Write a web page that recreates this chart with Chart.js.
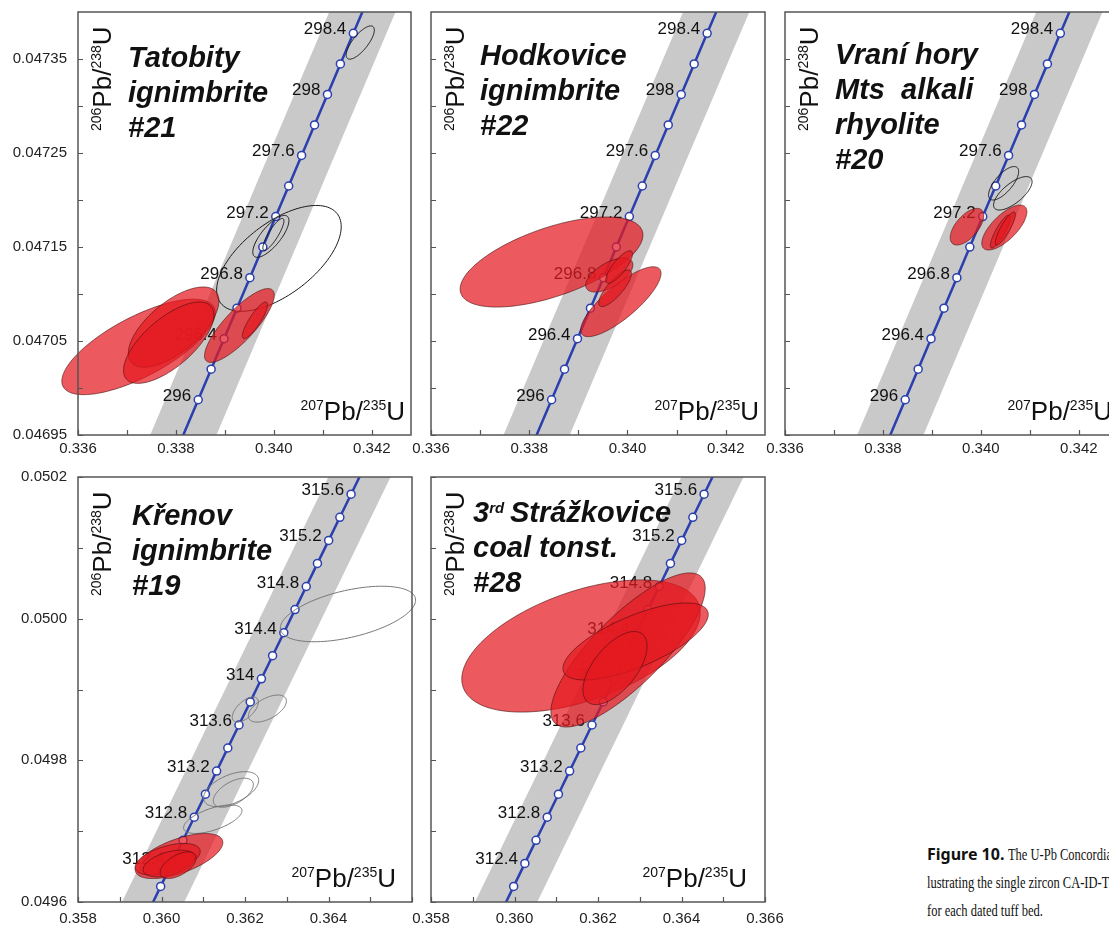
<!DOCTYPE html>
<html>
<head>
<meta charset="utf-8">
<script src="https://cdn.jsdelivr.net/npm/chart.js@4.4.1/dist/chart.umd.min.js"></script>
<style>
  html, body { margin: 0; padding: 0; background: #fff; }
  body { width: 1109px; height: 932px; overflow: hidden; position: relative; }
  canvas { position: absolute; }
  #caption { position: absolute; left: 927px; top: 840px; width: 182px; overflow: hidden; white-space: nowrap; line-height: 28px; color: #111; }
  #caption b { font-family: "Noto Sans", sans-serif; font-size: 16px; }
  #caption .serif { display: inline-block; font-family: "Liberation Serif", serif; font-size: 16px; transform: scaleX(0.78); transform-origin: left center; }
</style>
</head>
<body>
<canvas id="p1"></canvas>
<canvas id="p2"></canvas>
<canvas id="p3"></canvas>
<canvas id="p4"></canvas>
<canvas id="p5"></canvas>
<div id="caption">
  <div><b>Figure 10.</b> <span class="serif">The U-Pb Concordia diagrams il-</span></div>
  <div><span class="serif">lustrating the single zircon CA-ID-TIMS</span></div>
  <div><span class="serif">for each dated tuff bed.</span></div>
</div>
<script>
// concordia, upper row (ages in Ma)
const agesTop = [295.4, 295.6, 295.8, 296.0, 296.2, 296.4, 296.6, 296.8, 297.0, 297.2, 297.4, 297.6, 297.8, 298.0, 298.2, 298.4, 298.6, 298.8, 299.0];
const concXTop = [0.337664, 0.337928, 0.338191, 0.338455, 0.338719, 0.338982, 0.339246, 0.339510, 0.339774, 0.340038, 0.340302, 0.340566, 0.340830, 0.341094, 0.341358, 0.341622, 0.341886, 0.342151, 0.342415];
const concYTop = [0.0468901, 0.0469225, 0.0469550, 0.0469875, 0.0470200, 0.0470525, 0.0470849, 0.0471174, 0.0471499, 0.0471824, 0.0472149, 0.0472474, 0.0472799, 0.0473123, 0.0473448, 0.0473773, 0.0474098, 0.0474423, 0.0474748];
const labelAgesTop = [296, 296.4, 296.8, 297.2, 297.6, 298, 298.4];

// concordia, lower row
const agesBottom = [311.6, 311.8, 312.0, 312.2, 312.4, 312.6, 312.8, 313.0, 313.2, 313.4, 313.6, 313.8, 314.0, 314.2, 314.4, 314.6, 314.8, 315.0, 315.2, 315.4, 315.6, 315.8, 316.0, 316.2];
const concXBottom = [0.359176, 0.359444, 0.359712, 0.359980, 0.360248, 0.360516, 0.360784, 0.361052, 0.361320, 0.361588, 0.361856, 0.362125, 0.362393, 0.362661, 0.362930, 0.363198, 0.363467, 0.363735, 0.364004, 0.364272, 0.364541, 0.364810, 0.365079, 0.365348];
const concYBottom = [0.0495243, 0.0495568, 0.0495894, 0.0496220, 0.0496545, 0.0496871, 0.0497197, 0.0497522, 0.0497848, 0.0498174, 0.0498499, 0.0498825, 0.0499151, 0.0499477, 0.0499802, 0.0500128, 0.0500454, 0.0500780, 0.0501105, 0.0501431, 0.0501757, 0.0502083, 0.0502409, 0.0502734];
const labelAgesBottom = [312.4, 312.8, 313.2, 313.6, 314, 314.4, 314.8, 315.2, 315.6];

// ticks
const xTicksTop = [0.336, 0.337, 0.338, 0.339, 0.340, 0.341, 0.342];
const xLabelsTop = ['0.336', '', '0.338', '', '0.340', '', '0.342'];
const yTicksTop = [0.04695, 0.0470, 0.04705, 0.0471, 0.04715, 0.0472, 0.04725, 0.0473, 0.04735];
const yLabelsTop = ['0.04695', '', '0.04705', '', '0.04715', '', '0.04725', '', '0.04735'];
const xTicksBottom = [0.358, 0.359, 0.360, 0.361, 0.362, 0.363, 0.364, 0.365, 0.366];
const xLabelsBottom = ['0.358', '', '0.360', '', '0.362', '', '0.364', '', '0.366'];
const yTicksBottom = [0.0496, 0.0497, 0.0498, 0.0499, 0.0500, 0.0501, 0.0502];
const yLabelsBottom = ['0.0496', '', '0.0498', '', '0.0500', '', '0.0502'];

// error ellipses: [x, y, half-width x, half-width y, rho]
const tatobityOpen = [
  [0.340103, 0.0471379, 0.001272, 0.0000563, 0.6],
  [0.339938, 0.0471613, 0.000369, 0.0000223, 0.75],
  [0.339990, 0.0471634, 0.000215, 0.0000170, 0.85],
  [0.341764, 0.0473675, 0.000287, 0.0000177, 0.75]
];
const tatobityRed = [
  [0.337237, 0.0470437, 0.001567, 0.0000508, 0.716],
  [0.337953, 0.0470648, 0.000925, 0.0000427, 0.652],
  [0.337852, 0.0470482, 0.000923, 0.0000433, 0.68],
  [0.339296, 0.0470665, 0.000712, 0.0000393, 0.82],
  [0.339614, 0.0470721, 0.000256, 0.0000194, 0.85]
];
const hodkoviceOpen = [];
const hodkoviceRed = [
  [0.338454, 0.0471340, 0.001861, 0.0000479, 0.6],
  [0.339865, 0.0470918, 0.000818, 0.0000372, 0.81],
  [0.339630, 0.0471202, 0.000481, 0.0000181, 0.6],
  [0.339748, 0.0471061, 0.000333, 0.0000195, 0.8],
  [0.339830, 0.0471287, 0.000272, 0.0000173, 0.8]
];
const vraniOpen = [
  [0.340464, 0.0472178, 0.000307, 0.0000178, 0.7],
  [0.340652, 0.0472071, 0.000393, 0.0000178, 0.7]
];
const vraniRed = [
  [0.339716, 0.0471716, 0.000342, 0.0000195, 0.6],
  [0.340479, 0.0471707, 0.000460, 0.0000239, 0.7],
  [0.340397, 0.0471665, 0.000204, 0.0000176, 0.85],
  [0.340499, 0.0471697, 0.000204, 0.0000176, 0.85]
];
const krenovOpen = [
  [0.364467, 0.0500066, 0.001620, 0.0000392, 0.5],
  [0.362008, 0.0498717, 0.000312, 0.0000177, 0.6],
  [0.362536, 0.0498731, 0.000456, 0.0000191, 0.55],
  [0.361667, 0.0497593, 0.000660, 0.0000247, 0.5],
  [0.361720, 0.0497543, 0.000480, 0.0000205, 0.55],
  [0.361228, 0.0497169, 0.000700, 0.0000201, 0.6]
];
const krenovRed = [
  [0.360419, 0.0496649, 0.001050, 0.0000318, 0.6],
  [0.360148, 0.0496604, 0.000780, 0.0000223, 0.5],
  [0.360184, 0.0496543, 0.000624, 0.0000188, 0.45],
  [0.360400, 0.0496519, 0.000432, 0.0000188, 0.55]
];
const strazkoviceOpen = [];
const strazkoviceRed = [
  [0.361593, 0.0499614, 0.002856, 0.0000933, 0.5],
  [0.362720, 0.0499558, 0.001848, 0.0001088, 0.8],
  [0.362900, 0.0499678, 0.001740, 0.0000544, 0.7],
  [0.362408, 0.0499303, 0.000768, 0.0000516, 0.6]
];

// titles: each line is a list of [text, superscript]
const titleTatobity = [[['Tatobity', false]], [['ignimbrite', false]], [['#21', false]]];
const titleHodkovice = [[['Hodkovice', false]], [['ignimbrite', false]], [['#22', false]]];
const titleVrani = [[['Vraní hory', false]], [['Mts  alkali', false]], [['rhyolite', false]], [['#20', false]]];
const titleKrenov = [[['Křenov', false]], [['ignimbrite', false]], [['#19', false]]];
const titleStrazkovice = [[['3', false], ['rd', true], ['\u2009Strážkovice', false]], [['coal tonst.', false]], [['#28', false]]];

const yAxisText = [['206', true], ['Pb/', false], ['238', true], ['U', false]];
const xAxisText = [['207', true], ['Pb/', false], ['235', true], ['U', false]];

const topRow = {
  ages: agesTop, cx: concXTop, cy: concYTop, labels: labelAgesTop, markMin: 296, markMax: 298.4,
  xMin: 0.336, xMax: 0.3428, yMin: 0.04695, yMax: 0.0474,
  xTicks: xTicksTop, xLabels: xLabelsTop, yTicks: yTicksTop, yLabels: yLabelsTop, band: 61, xPad: 5
};
const bottomRow = {
  ages: agesBottom, cx: concXBottom, cy: concYBottom, labels: labelAgesBottom, markMin: 312.2, markMax: 315.6,
  xMin: 0.358, xMax: 0.366, yMin: 0.0496, yMax: 0.0502,
  xTicks: xTicksBottom, xLabels: xLabelsBottom, yTicks: yTicksBottom, yLabels: yLabelsBottom, band: 56, xPad: 8
};

const panels = [
  { id: 'p1', left: 78, top: 12, w: 333, h: 423, row: topRow, title: titleTatobity, tx: 50, ty: 55, open: tatobityOpen, red: tatobityRed, showY: true, xlabRight: 6, hideLastX: false },
  { id: 'p2', left: 431, top: 12, w: 334, h: 423, row: topRow, title: titleHodkovice, tx: 49, ty: 53, open: hodkoviceOpen, red: hodkoviceRed, showY: false, xlabRight: 6, hideLastX: false },
  { id: 'p3', left: 785, top: 12, w: 333, h: 423, row: topRow, title: titleVrani, tx: 50, ty: 52, open: vraniOpen, red: vraniRed, showY: false, xlabRight: 6, hideLastX: false },
  { id: 'p4', left: 78, top: 477, w: 334, h: 425, row: bottomRow, title: titleKrenov, tx: 54, ty: 48, open: krenovOpen, red: krenovRed, showY: true, xlabRight: 16, hideLastX: true, openColor: '#777' },
  { id: 'p5', left: 431, top: 477, w: 334, h: 425, row: bottomRow, title: titleStrazkovice, tx: 42, ty: 45, open: strazkoviceOpen, red: strazkoviceRed, showY: false, xlabRight: 18, hideLastX: false }
];

const BLUE = '#2b3faf';
const SANS = '"Liberation Sans", Arial, sans-serif';

function drawRich(ctx, parts, x, y, big, small, raise) {
  parts.forEach(part => {
    ctx.font = part[1] ? small : big;
    ctx.fillText(part[0], x, part[1] ? y - raise : y);
    x += ctx.measureText(part[0]).width;
  });
  return x;
}

function richWidth(ctx, parts, big, small) {
  let w = 0;
  parts.forEach(part => {
    ctx.font = part[1] ? small : big;
    w += ctx.measureText(part[0]).width;
  });
  return w;
}

function ellipsePath(ctx, xs, ys, e) {
  const [cx, cy, sx, sy, r] = e;
  const k = Math.sqrt(1 - r * r);
  ctx.beginPath();
  for (let i = 0; i <= 120; i++) {
    const t = i / 120 * Math.PI * 2;
    const X = xs.getPixelForValue(cx + sx * Math.cos(t));
    const Y = ys.getPixelForValue(cy + sy * (r * Math.cos(t) + k * Math.sin(t)));
    if (i === 0) ctx.moveTo(X, Y); else ctx.lineTo(X, Y);
  }
  ctx.closePath();
}

function decorPlugin(p) {
  const row = p.row;
  return {
    id: 'decor',
    afterDatasetsDraw(chart) {
      const ctx = chart.ctx;
      const a = chart.chartArea;
      const xs = chart.scales.x, ys = chart.scales.y;

      // age labels along the concordia
      ctx.save();
      ctx.beginPath();
      ctx.rect(a.left, a.top, a.right - a.left, a.bottom - a.top);
      ctx.clip();
      ctx.fillStyle = '#111';
      ctx.font = '17px ' + SANS;
      ctx.textAlign = 'right';
      ctx.textBaseline = 'alphabetic';
      row.labels.forEach(age => {
        const i = row.ages.findIndex(v => Math.abs(v - age) < 1e-6);
        const X = xs.getPixelForValue(row.cx[i]);
        const Y = ys.getPixelForValue(row.cy[i]);
        ctx.fillText(String(age), X - 7, Y + 1);
      });
      ctx.restore();

      // ellipses (not clipped: some reach past the frame)
      ctx.save();
      ctx.strokeStyle = p.openColor || '#1a1a1a';
      ctx.lineWidth = 1;
      p.open.forEach(e => {
        ellipsePath(ctx, xs, ys, e);
        ctx.stroke();
      });
      p.red.forEach(e => {
        ellipsePath(ctx, xs, ys, e);
        ctx.fillStyle = 'rgba(228, 25, 32, 0.72)';
        ctx.fill();
        ctx.strokeStyle = 'rgba(70, 15, 15, 0.75)';
        ctx.lineWidth = 0.8;
        ctx.stroke();
      });

      // inward ticks + frame
      ctx.strokeStyle = '#555';
      ctx.lineWidth = 1.2;
      ctx.beginPath();
      row.xTicks.forEach(v => {
        const X = Math.round(xs.getPixelForValue(v)) + 0.5;
        ctx.moveTo(X, a.bottom);
        ctx.lineTo(X, a.bottom - 5);
      });
      row.yTicks.forEach(v => {
        const Y = Math.round(ys.getPixelForValue(v)) + 0.5;
        ctx.moveTo(a.left, Y);
        ctx.lineTo(a.left + 5, Y);
      });
      ctx.stroke();
      ctx.lineWidth = 1.5;
      ctx.strokeRect(a.left, a.top, a.right - a.left, a.bottom - a.top);

      // title
      ctx.fillStyle = '#111';
      ctx.textAlign = 'left';
      ctx.textBaseline = 'alphabetic';
      p.title.forEach((line, i) => {
        drawRich(ctx, line, a.left + p.tx, a.top + p.ty + i * 35,
          'italic bold 29px ' + SANS, 'italic bold 15px ' + SANS, 9);
      });

      // axis labels
      const big = '26px ' + SANS, small = '14px ' + SANS;
      const wx = richWidth(ctx, xAxisText, big, small);
      drawRich(ctx, xAxisText, a.right - p.xlabRight - wx, a.bottom - 15, big, small, 10);
      ctx.translate(a.left + 33, a.top + 119);
      ctx.rotate(-Math.PI / 2);
      drawRich(ctx, yAxisText, 0, 0, big, small, 10);
      ctx.restore();
    }
  };
}

function makeChart(p) {
  const row = p.row;
  const canvas = document.getElementById(p.id);
  const padL = 80, padT = 12, padR = 24, padB = 30;
  canvas.width = padL + p.w + padR;
  canvas.height = padT + p.h + padB;
  canvas.style.left = (p.left - padL) + 'px';
  canvas.style.top = (p.top - padT) + 'px';

  const pts = row.ages.map((age, i) => ({ x: row.cx[i], y: row.cy[i] }));
  const xLabels = row.xLabels.map((l, i) => (p.hideLastX && i === row.xLabels.length - 1) ? '' : l);

  new Chart(canvas, {
    type: 'scatter',
    data: {
      datasets: [
        {
          data: pts,
          showLine: true,
          borderColor: BLUE,
          borderWidth: 2.5,
          pointRadius: ctx => {
            const age = row.ages[ctx.dataIndex];
            return (age >= row.markMin - 1e-6 && age <= row.markMax + 1e-6) ? 4 : 0;
          },
          pointBackgroundColor: '#fff',
          pointBorderColor: BLUE,
          pointBorderWidth: 1.5,
          clip: 0
        },
        {
          data: pts,
          showLine: true,
          borderColor: '#c9c9c9',
          borderWidth: row.band,
          borderCapStyle: 'butt',
          pointRadius: 0,
          clip: 0
        }
      ]
    },
    options: {
      responsive: false,
      animation: false,
      events: [],
      layout: { padding: { top: padT, right: padR, left: 0, bottom: 0 } },
      plugins: { legend: { display: false }, tooltip: { enabled: false } },
      scales: {
        x: {
          type: 'linear',
          min: row.xMin,
          max: row.xMax,
          afterFit: s => { s.height = padB; s.paddingLeft = 0; s.paddingRight = 0; },
          afterBuildTicks: s => { s.ticks = row.xTicks.map(v => ({ value: v })); },
          grid: { display: false, drawTicks: false },
          border: { display: false },
          ticks: {
            autoSkip: false,
            maxRotation: 0,
            padding: row.xPad,
            color: '#222',
            font: { family: 'Liberation Sans', size: 15 },
            callback: (v, i) => xLabels[i]
          }
        },
        y: {
          type: 'linear',
          min: row.yMin,
          max: row.yMax,
          afterFit: s => { s.width = padL; s.paddingTop = 0; s.paddingBottom = 0; },
          afterBuildTicks: s => { s.ticks = row.yTicks.map(v => ({ value: v })); },
          grid: { display: false, drawTicks: false },
          border: { display: false },
          ticks: {
            autoSkip: false,
            padding: 11,
            color: '#222',
            font: { family: 'Liberation Sans', size: 15 },
            callback: (v, i) => p.showY ? row.yLabels[i] : ''
          }
        }
      }
    },
    plugins: [decorPlugin(p)]
  });
}

panels.forEach(makeChart);
</script>
</body>
</html>
